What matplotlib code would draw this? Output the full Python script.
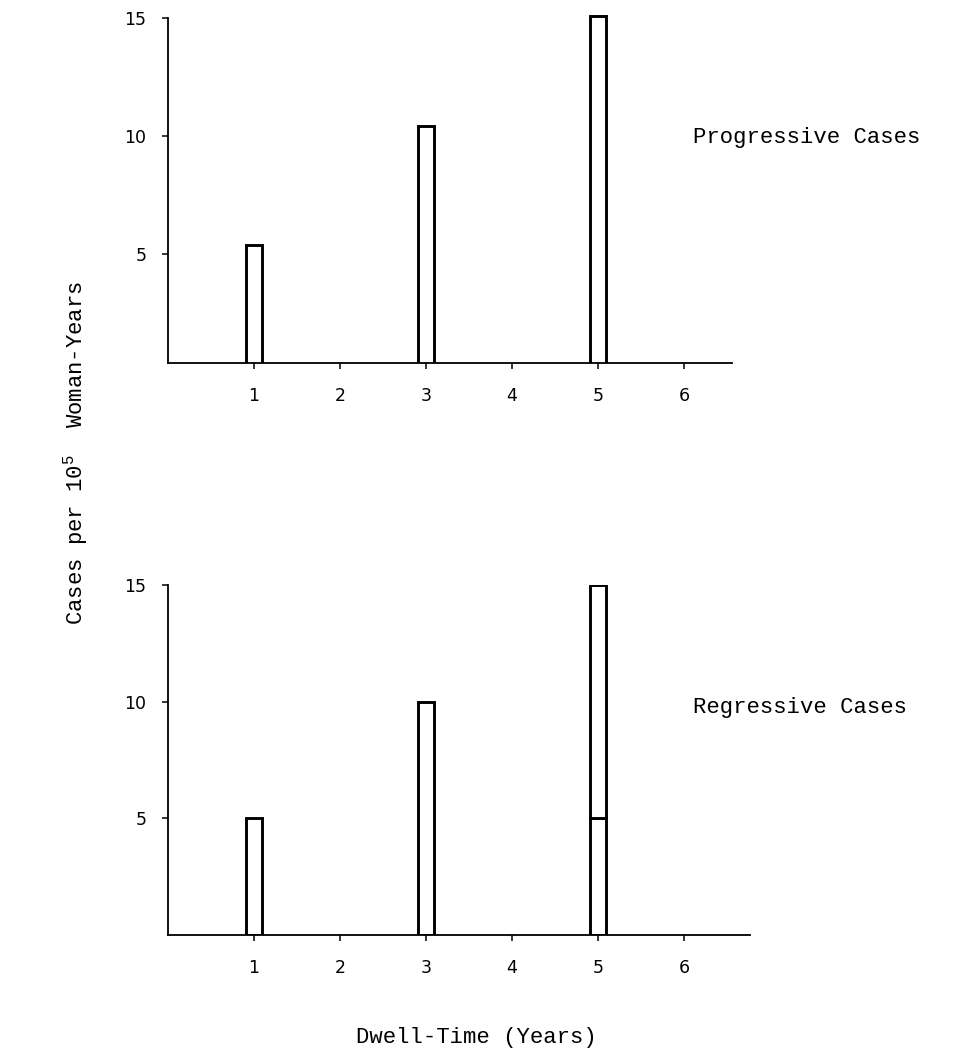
import matplotlib.pyplot as plt

# dwell time (years) of each bar
dwell_years = [1, 3, 5]
# cases per 10^5 woman-years
progressive = [5.4, 10.45, 15.1]
# regressive bars are stacked: lower block + upper block
regressive_low = [5, 10, 5]
regressive_high = [0, 0, 10]

x_ticks = [1, 2, 3, 4, 5, 6]
y_ticks = [5, 10, 15]

mono = "Liberation Mono"
plt.rcParams['mathtext.fontset'] = 'custom'
plt.rcParams['mathtext.rm'] = mono
plt.rcParams['mathtext.it'] = mono

fig = plt.figure(figsize=(9.54, 10.53), dpi=100)
ax_top = fig.add_axes([0.1761, 0.6553, 0.5912, 0.3321])
ax_bot = fig.add_axes([0.1761, 0.1121, 0.6101, 0.3324])

bar_kw = dict(width=0.19, facecolor="white", edgecolor="black", linewidth=2.1)

ax_top.bar(dwell_years, progressive, **bar_kw)
ax_bot.bar(dwell_years, regressive_low, **bar_kw)
high = [(x, h, b) for x, h, b in zip(dwell_years, regressive_high, regressive_low) if h > 0]
ax_bot.bar([x for x, _, _ in high], [h for _, h, _ in high],
           bottom=[b for _, _, b in high], **bar_kw)

ax_top.set_xlim(0, 6.56)
ax_top.set_ylim(0.4, 15.2)
ax_bot.set_xlim(0, 6.77)
ax_bot.set_ylim(0, 15)

# left spine of the top panel stops at the 15 tick
ax_top.spines["left"].set_bounds(0.4, 15)

for ax in (ax_top, ax_bot):
    for side in ("top", "right"):
        ax.spines[side].set_visible(False)
    for side in ("left", "bottom"):
        ax.spines[side].set_linewidth(1.3)
    ax.set_xticks(x_ticks)
    ax.set_yticks(y_ticks)
    ax.tick_params(axis="x", direction="out", length=4, width=1.1, pad=13, labelsize=12.5)
    ax.tick_params(axis="y", direction="out", length=4.5, width=1.1, pad=11, labelsize=12.5)

fig.text(693 / 954, 1 - 138 / 1053, "Progressive Cases", family=mono, fontsize=16,
         ha="left", va="center")
fig.text(693 / 954, 1 - 708 / 1053, "Regressive Cases", family=mono, fontsize=16,
         ha="left", va="center")

fig.text(476 / 954, 1 - 1038 / 1053, "Dwell-Time (Years)", family=mono, fontsize=16,
         ha="center", va="center")
fig.text(76 / 954, 1 - 453 / 1053, r"Cases per 10$^{5}$  Woman-Years", family=mono,
         fontsize=16, rotation=90, ha="center", va="center")

fig.savefig("out.png", dpi=100, facecolor="white")
